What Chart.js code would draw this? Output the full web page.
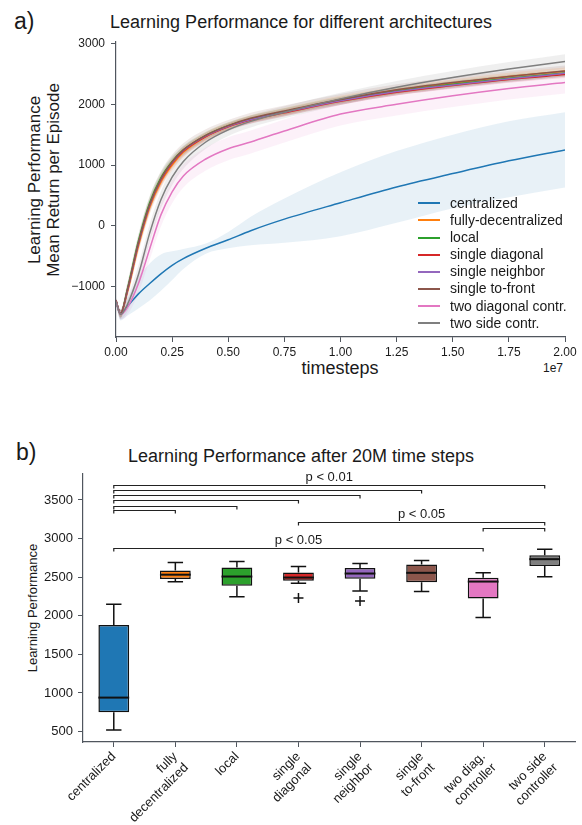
<!DOCTYPE html>
<html>
<head>
<meta charset="utf-8">
<script src="https://cdn.jsdelivr.net/npm/chart.js@4.4.1/dist/chart.umd.min.js"></script>
<style>
  html, body { margin: 0; padding: 0; background: #fff; }
  body { width: 582px; height: 825px; position: relative; overflow: hidden;
         font-family: "Liberation Sans", Arial, Helvetica, sans-serif; color: #1a1a1a; }
  .abs { position: absolute; white-space: nowrap; }
  .ctr { transform: translate(-50%, -50%); }
  .panel { position: absolute; left: 0; width: 582px; }
  #legendA { position: absolute; left: 418px; top: 194.7px; }
  #legendA .row { height: 17.15px; display: flex; align-items: center; }
  #legendA .swatch { width: 22px; height: 2px; margin-right: 10px; }
  #legendA .txt { font-size: 14px; line-height: 17px; color: #1a1a1a; }
</style>
</head>
<body>

<div class="abs" style="left:14px; top:8px; font-size:23px;">a)</div>
<div class="abs ctr" style="left:301px; top:22px; font-size:18px;">Learning Performance for different architectures</div>
<div class="abs ctr" style="left:44px; top:180px; transform:translate(-50%,-50%) rotate(-90deg); font-size:17px; line-height:19px; text-align:center;">Learning Performance<br>Mean Return per Episode</div>
<div class="abs ctr" style="left:340px; top:368px; font-size:18px;">timesteps</div>
<div class="abs ctr" style="left:553px; top:368px; font-size:12px;">1e7</div>

<div class="panel" style="top:0; height:400px;"><canvas id="perfCurves" width="582" height="400"></canvas></div>
<div id="legendA"></div>

<div class="abs" style="left:16px; top:439px; font-size:23px;">b)</div>
<div class="abs ctr" style="left:301px; top:456px; font-size:18px;">Learning Performance after 20M time steps</div>
<div class="abs ctr" style="left:32px; top:608px; transform:translate(-50%,-50%) rotate(-90deg); font-size:13px;">Learning Performance</div>

<div class="panel" style="top:400px; height:425px;"><canvas id="finalBoxes" width="582" height="425"></canvas></div>

<script>
// ---------- Panel a: learning curves (mean with spread band) ----------
const timesteps = [0, 0.2e6, 0.5e6, 1e6, 1.5e6, 2e6, 2.5e6, 3e6, 4e6, 5e6, 6e6, 7.5e6, 10e6, 12.5e6, 15e6, 17.5e6, 20e6];

const centralized      = [-1250, -1440, -1330, -1120, -950, -790, -650, -540, -370, -230, -80, 110, 380, 640, 860, 1070, 1250];
const centralizedUpper = [-1200, -1380, -1200, -850, -620, -470, -420, -380, -290, -100, 150, 450, 880, 1230, 1500, 1720, 1870];
const centralizedLower = [-1300, -1560, -1480, -1360, -1230, -1070, -890, -710, -460, -370, -320, -280, -170, 50, 290, 470, 630];

const fullyDecentralized = [-1230, -1450, -1100, -330, 300, 720, 1000, 1210, 1470, 1640, 1760, 1880, 2080, 2230, 2350, 2460, 2545];
const local              = [-1230, -1450, -1050, -250, 380, 790, 1060, 1250, 1490, 1650, 1760, 1880, 2070, 2220, 2330, 2430, 2515];
const singleDiagonal     = [-1230, -1450, -1080, -290, 340, 750, 1030, 1230, 1470, 1630, 1740, 1860, 2050, 2200, 2310, 2410, 2490];
const singleNeighbor     = [-1230, -1450, -1080, -290, 340, 760, 1040, 1240, 1480, 1640, 1750, 1870, 2060, 2210, 2320, 2420, 2510];
const singleToFront      = [-1230, -1450, -1070, -280, 350, 770, 1050, 1250, 1490, 1650, 1770, 1890, 2080, 2240, 2360, 2460, 2550];
const twoDiagonalContr   = [-1250, -1460, -1350, -950, -380, 180, 560, 820, 1100, 1270, 1380, 1560, 1840, 2000, 2140, 2260, 2360];
const twoSideContr       = [-1250, -1460, -1300, -800, -120, 430, 800, 1060, 1380, 1580, 1720, 1870, 2090, 2280, 2440, 2580, 2705];

// half-width of the shaded band around each mean curve
const spreadFully    = [30, 60, 90, 110, 110, 100, 90, 80, 70, 60, 60, 60, 60, 60, 60, 60, 60];
const spreadLocal    = [30, 60, 90, 100, 100, 90, 80, 70, 60, 55, 55, 55, 55, 55, 55, 55, 55];
const spreadDiagonal = [30, 60, 90, 100, 100, 90, 80, 70, 60, 55, 55, 55, 55, 55, 55, 55, 55];
const spreadNeighbor = [30, 60, 80, 100, 100, 90, 80, 70, 60, 60, 60, 60, 60, 60, 60, 60, 60];
const spreadToFront  = [40, 80, 120, 140, 140, 130, 120, 110, 100, 90, 90, 90, 90, 90, 90, 90, 90];
const spreadTwoDiag  = [40, 80, 120, 160, 180, 190, 190, 190, 190, 190, 190, 190, 190, 185, 185, 180, 180];
const spreadTwoSide  = [40, 80, 120, 150, 150, 140, 130, 120, 110, 100, 100, 100, 100, 105, 110, 115, 120];

const seriesNames = ['centralized', 'fully-decentralized', 'local', 'single diagonal', 'single neighbor',
                     'single to-front', 'two diagonal contr.', 'two side contr.'];
const seriesColors = ['#1f77b4', '#ff7f0e', '#2ca02c', '#d62728', '#9467bd', '#8c564b', '#e377c2', '#7f7f7f'];

const xTickValues = [0, 2.5e6, 5e6, 7.5e6, 10e6, 12.5e6, 15e6, 17.5e6, 20e6];
const yTickValuesA = [-1000, 0, 1000, 2000, 3000];

const curveMeans = [centralized, fullyDecentralized, local, singleDiagonal, singleNeighbor, singleToFront, twoDiagonalContr, twoSideContr];
const curveSpreads = [null, spreadFully, spreadLocal, spreadDiagonal, spreadNeighbor, spreadToFront, spreadTwoDiag, spreadTwoSide];
const bandAlpha = [0.1, 0.12, 0.12, 0.12, 0.12, 0.13, 0.1, 0.12];

function rgba(hex, a) {
  const n = parseInt(hex.slice(1), 16);
  return `rgba(${(n >> 16) & 255},${(n >> 8) & 255},${n & 255},${a})`;
}
const toPoints = ys => ys.map((y, i) => ({ x: timesteps[i], y }));

Chart.defaults.font.family = '"Liberation Sans", Arial, Helvetica, sans-serif';
Chart.defaults.color = '#1a1a1a';

const curveSets = [];
curveMeans.forEach((mean, i) => {
  const up = i === 0 ? centralizedUpper : mean.map((v, k) => v + curveSpreads[i][k]);
  const lo = i === 0 ? centralizedLower : mean.map((v, k) => v - curveSpreads[i][k]);
  curveSets.push({ data: toPoints(up), borderWidth: 0, pointRadius: 0, fill: false,
                   cubicInterpolationMode: 'monotone', order: 50 + i });
  curveSets.push({ data: toPoints(lo), borderWidth: 0, pointRadius: 0, fill: '-1',
                   backgroundColor: rgba(seriesColors[i], bandAlpha[i]),
                   cubicInterpolationMode: 'monotone', order: 50 + i });
});
curveMeans.forEach((mean, i) => {
  curveSets.push({ label: seriesNames[i], data: toPoints(mean), borderColor: seriesColors[i],
                   borderWidth: 1.5, pointRadius: 0, fill: false,
                   cubicInterpolationMode: 'monotone', order: 10 - i });
});

const axisColor = '#50565e';

new Chart(document.getElementById('perfCurves'), {
  type: 'line',
  data: { datasets: curveSets },
  options: {
    responsive: false, animation: false, devicePixelRatio: 1,
    layout: { padding: { left: 0, top: 42, right: 17, bottom: 0 } },
    plugins: { legend: { display: false }, tooltip: { enabled: false } },
    scales: {
      x: {
        type: 'linear', min: 0, max: 2e7,
        afterBuildTicks: s => { s.ticks = xTickValues.map(v => ({ value: v })); },
        afterFit: s => { s.height = 63; },
        ticks: { callback: v => (v / 1e7).toFixed(2), font: { size: 12 }, color: '#1a1a1a', padding: 3, maxRotation: 0 },
        grid: { display: true, drawOnChartArea: false, tickLength: 5, color: axisColor },
        border: { display: true, color: axisColor, width: 1.2 }
      },
      y: {
        type: 'linear', min: -1830, max: 3026,
        afterBuildTicks: s => { s.ticks = yTickValuesA.map(v => ({ value: v })); },
        afterFit: s => { s.width = 116; },
        ticks: { callback: v => String(v).replace('-', '\u2212'), font: { size: 12 }, color: '#1a1a1a', padding: 6 },
        grid: { display: true, drawOnChartArea: false, tickLength: 5, color: axisColor },
        border: { display: true, color: axisColor, width: 1.2 }
      }
    }
  }
});

// legend entries for panel a
const legendBox = document.getElementById('legendA');
seriesNames.forEach((name, i) => {
  const row = document.createElement('div');
  row.className = 'row';
  row.innerHTML = `<div class="swatch" style="background:${seriesColors[i]}"></div><div class="txt">${name}</div>`;
  legendBox.appendChild(row);
});

// ---------- Panel b: final performance box plots ----------
const architectures = [['centralized'], ['fully', 'decentralized'], ['local'], ['single', 'diagonal'],
                       ['single', 'neighbor'], ['single', 'to-front'], ['two diag.', 'controller'], ['two side', 'controller']];
const whiskerLow  = [520, 2440, 2245, 2422, 2320, 2315, 1978, 2504];
const quartile1   = [750, 2475, 2390, 2452, 2478, 2435, 2224, 2646];
const medians     = [940, 2532, 2508, 2495, 2547, 2556, 2443, 2733];
const quartile3   = [1880, 2585, 2624, 2559, 2620, 2663, 2491, 2784];
const whiskerHigh = [2150, 2690, 2702, 2637, 2676, 2715, 2556, 2862];
const outliers    = [null, null, null, 2230, 2190, null, null, null];
const yTickValuesB = [500, 1000, 1500, 2000, 2500, 3000, 3500];

// significance brackets: group index pairs, bracket height, annotation
const bracketFrom  = [0, 0, 0, 0, 0, 0, 3, 6, 0];
const bracketTo    = [7, 5, 4, 3, 2, 1, 7, 7, 6];
const bracketLevel = [3692, 3630, 3562, 3500, 3428, 3366, 3212, 3140, 2875];
const bracketLabel = ['p < 0.01', '', '', '', '', '', 'p < 0.05', '', 'p < 0.05'];

const boxExtras = {
  id: 'boxExtras',
  afterDatasetsDraw(chart) {
    const { ctx, scales: { x: xs, y: ys } } = chart;
    const bars = chart.getDatasetMeta(0).data;
    ctx.save();
    ctx.strokeStyle = '#111';
    ctx.lineCap = 'butt';
    bars.forEach((bar, i) => {
      const cx = bar.x, hw = bar.width / 2;
      const yMin = ys.getPixelForValue(whiskerLow[i]);
      const yQ1 = ys.getPixelForValue(quartile1[i]);
      const yQ3 = ys.getPixelForValue(quartile3[i]);
      const yMax = ys.getPixelForValue(whiskerHigh[i]);
      const yMed = ys.getPixelForValue(medians[i]);
      ctx.lineWidth = 1.5;
      ctx.beginPath();
      ctx.moveTo(cx, yQ3); ctx.lineTo(cx, yMax);
      ctx.moveTo(cx - hw / 2, yMax); ctx.lineTo(cx + hw / 2, yMax);
      ctx.moveTo(cx, yQ1); ctx.lineTo(cx, yMin);
      ctx.moveTo(cx - hw / 2, yMin); ctx.lineTo(cx + hw / 2, yMin);
      ctx.stroke();
      ctx.lineWidth = 2;
      ctx.beginPath();
      ctx.moveTo(cx - hw, yMed); ctx.lineTo(cx + hw, yMed);
      ctx.stroke();
    });
    ctx.lineWidth = 1.2;
    ctx.strokeStyle = '#222';
    ctx.fillStyle = '#1a1a1a';
    ctx.font = '13px "Liberation Sans", Arial, sans-serif';
    ctx.textAlign = 'center';
    ctx.textBaseline = 'bottom';
    bracketLevel.forEach((lvl, j) => {
      const x1 = xs.getPixelForValue(bracketFrom[j]);
      const x2 = xs.getPixelForValue(bracketTo[j]);
      const y = Math.round(ys.getPixelForValue(lvl)) + 0.5;
      ctx.beginPath();
      ctx.moveTo(x1, y + 3); ctx.lineTo(x1, y); ctx.lineTo(x2, y); ctx.lineTo(x2, y + 3);
      ctx.stroke();
      if (bracketLabel[j]) ctx.fillText(bracketLabel[j], (x1 + x2) / 2, y - 2);
    });
    ctx.restore();
  }
};

new Chart(document.getElementById('finalBoxes'), {
  type: 'bar',
  data: {
    labels: architectures,
    datasets: [
      { type: 'bar', data: quartile1.map((q, i) => [q, quartile3[i]]),
        backgroundColor: seriesColors, borderColor: '#111', borderWidth: 1.5, borderSkipped: false,
        barPercentage: 0.5, categoryPercentage: 1, order: 2 },
      { type: 'line', data: outliers, showLine: false, pointStyle: 'cross', pointRadius: 5,
        borderColor: '#111', borderWidth: 1.5, order: 1 }
    ]
  },
  options: {
    responsive: false, animation: false, devicePixelRatio: 1,
    layout: { padding: { left: 0, top: 74, right: 5, bottom: 0 } },
    plugins: { legend: { display: false }, tooltip: { enabled: false } },
    scales: {
      x: {
        afterFit: s => { s.height = 83; },
        ticks: { font: { size: 13 }, color: '#1a1a1a', minRotation: 45, maxRotation: 45, autoSkip: false, padding: 2 },
        grid: { display: true, drawOnChartArea: false, tickLength: 5, color: axisColor, offset: false },
        border: { display: true, color: axisColor, width: 1.2 }
      },
      y: {
        min: 365, max: 3836,
        afterBuildTicks: s => { s.ticks = yTickValuesB.map(v => ({ value: v })); },
        afterFit: s => { s.width = 83; },
        ticks: { callback: v => String(v), font: { size: 13 }, color: '#1a1a1a', padding: 5 },
        grid: { display: true, drawOnChartArea: false, tickLength: 5, color: axisColor },
        border: { display: true, color: axisColor, width: 1.2 }
      }
    }
  },
  plugins: [boxExtras]
});
</script>
</body>
</html>
